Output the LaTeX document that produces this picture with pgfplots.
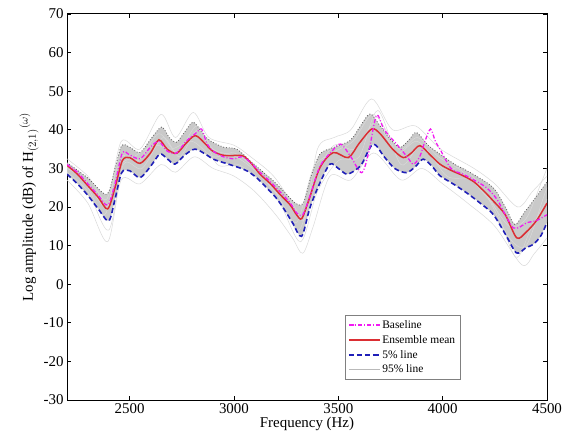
\documentclass[border=0pt]{standalone}
\usepackage{pgfplots}
\pgfplotsset{compat=1.18}
\usepgfplotslibrary{fillbetween}
\usepackage{fontspec}
\setmainfont{Liberation Serif}
\definecolor{myred}{rgb}{0.86,0.18,0.2}
\definecolor{myblue}{rgb}{0.12,0.12,0.72}
\definecolor{mymag}{rgb}{0.95,0.1,0.95}
\begin{document}
\begin{tikzpicture}
\begin{axis}[
  scale only axis, width=480bp, height=386bp,
  xmin=2200, xmax=4500, ymin=-30, ymax=70,
  xtick={2500,3000,3500,4000,4500},
  ytick={-30,-20,...,70},
  tick align=inside, tick pos=both,
  major tick length=4bp,
  axis line style={line width=1pt},
  every tick/.style={black, line width=0.6pt},
  /pgf/number format/assume math mode=true,
  /pgf/number format/1000 sep={},
  tick label style={font=\fontsize{15}{17}\selectfont},
  label style={font=\fontsize{15}{17}\selectfont},
  xlabel={Frequency (Hz)},
  ylabel={Log amplitude (dB) of H$_{(2,1)}$$^{(\omega)}$},
  xlabel style={yshift=3bp},
  ylabel style={yshift=-2bp},
  reverse legend,
  legend cell align=left,
  legend image post style={xscale=1.8},
  legend style={at={(0.579,0.22)}, anchor=north west, font=\fontsize{11.5}{13}\selectfont,
    draw=gray, row sep=1.5pt, inner sep=3pt},
  clip=true,
]
% light grey ensemble samples
\addplot[forget plot, gray!30, line width=0.5pt, smooth] coordinates {
(2200,32.5)(2300,28)(2390,22)(2460,37)(2550,35)(2650,44)(2720,38)(2805,44.5)(2880,38)(3000,36)(3080,33)(3190,28)(3290,20)(3340,17)(3400,35)(3480,38)(3560,40)(3660,48)(3760,40)(3870,41)(3990,35)(4150,30)(4250,26)(4360,20)(4430,24)(4500,28)};
\addplot[forget plot, gray!30, line width=0.5pt, smooth] coordinates {
(2200,27)(2300,21)(2395,11)(2460,27)(2550,26)(2650,31)(2720,29)(2810,33)(2900,30)(3000,28)(3100,24)(3200,18)(3280,12)(3330,8)(3380,15)(3460,28)(3560,27)(3670,34)(3800,27)(3900,30)(4000,26)(4120,21)(4250,15)(4380,5)(4440,8)(4500,12)};
\addplot[forget plot, gray!30, line width=0.5pt, smooth] coordinates {
(2200,30)(2280,27)(2380,18)(2440,30)(2520,33)(2620,36)(2700,35)(2800,37)(2900,33)(3000,34)(3100,30)(3200,24)(3310,14)(3390,28)(3480,36)(3580,35)(3680,42)(3780,34)(3880,37)(4000,30)(4100,30)(4200,24)(4320,12)(4400,10)(4480,22)(4500,25)};
\addplot[forget plot, gray!30, line width=0.5pt, smooth] coordinates {
(2200,29)(2300,24)(2400,14)(2470,31)(2560,30)(2660,38)(2740,33)(2830,40)(2920,31)(3020,31)(3120,27)(3220,21)(3320,11)(3400,24)(3500,32)(3600,33)(3690,45)(3800,31)(3900,36)(4020,28)(4140,27)(4250,20)(4350,7)(4420,14)(4500,22)};
\addplot[forget plot, gray!30, line width=0.5pt, smooth] coordinates {
(2200,31)(2300,26)(2390,20)(2450,33)(2540,32)(2640,39)(2730,34)(2820,41)(2900,35)(3010,33)(3110,29)(3210,23)(3300,16)(3380,30)(3470,34)(3570,37)(3670,44)(3790,35)(3880,38)(3980,33)(4100,29)(4220,22)(4320,15)(4400,17)(4470,26)(4500,30)};
% upper boundary of band
\addplot[forget plot, name path=up, draw=none, smooth] coordinates {
(2200,31.5)(2300,27.5)(2390,23.3)(2430,30)(2462,35.9)(2500,35.5)(2550,34.1)(2600,37.5)(2653,40.7)(2690,38)(2725,36.8)(2765,39.5)(2805,42)(2850,39)(2885,37.2)(2950,35.5)(3013,35)(3077,32)(3130,29.5)(3188,26.8)(3240,24)(3292,21.1)(3332,21)(3370,28)(3412,33.7)(3476,35.4)(3556,37.2)(3600,40.5)(3652,44.1)(3700,41)(3750,37.5)(3795,35.4)(3840,37.5)(3875,39.3)(3930,36)(3987,33.7)(4060,31)(4146,28.5)(4242,25)(4300,20)(4346,15.5)(4390,18.5)(4434,21.6)(4500,26.5)};
% lower boundary of band
\addplot[forget plot, name path=lo, draw=none, smooth] coordinates {
(2200,28.5)(2250,26)(2300,23)(2350,19.5)(2400,16.4)(2430,22)(2462,28.9)(2500,29.4)(2550,27.6)(2600,30.5)(2645,33.7)(2680,32.5)(2717,31.1)(2765,33.5)(2813,35)(2860,33.8)(2901,32.4)(2950,31.5)(2997,30.7)(3061,29.4)(3110,27.5)(3156,25)(3200,22.5)(3236,19.8)(3280,16)(3324,12.4)(3364,19.8)(3410,26)(3460,31.1)(3500,30)(3540,28.5)(3580,29.5)(3612,31.1)(3667,36.3)(3720,33)(3770,30)(3827,28.9)(3870,30.5)(3907,32.4)(3950,30.5)(3987,28.1)(4050,26)(4114,23.7)(4180,21)(4242,18.1)(4300,13)(4354,8.1)(4400,9.5)(4434,10.3)(4470,12.5)(4500,16)};
\addplot[forget plot, fill=gray!42, draw=none] fill between[of=up and lo];
% dark dotted upper line
\addplot[forget plot, black!65, dotted, line width=0.8pt, smooth] coordinates {
(2200,31.5)(2300,27.5)(2390,23.3)(2430,30)(2462,35.9)(2500,35.5)(2550,34.1)(2600,37.5)(2653,40.7)(2690,38)(2725,36.8)(2765,39.5)(2805,42)(2850,39)(2885,37.2)(2950,35.5)(3013,35)(3077,32)(3130,29.5)(3188,26.8)(3240,24)(3292,21.1)(3332,21)(3370,28)(3412,33.7)(3476,35.4)(3556,37.2)(3600,40.5)(3652,44.1)(3700,41)(3750,37.5)(3795,35.4)(3840,37.5)(3875,39.3)(3930,36)(3987,33.7)(4060,31)(4146,28.5)(4242,25)(4300,20)(4346,15.5)(4390,18.5)(4434,21.6)(4500,26.5)};
\addlegendimage{gray!55, line width=0.6pt}
\addlegendentry{95\% line}
% blue 5%
\addplot[myblue, dash pattern=on 5pt off 3pt, line width=1.6pt, smooth] coordinates {
(2200,28.5)(2250,26)(2300,23)(2350,19.5)(2400,16.4)(2430,22)(2462,28.9)(2500,29.4)(2550,27.6)(2600,30.5)(2645,33.7)(2680,32.5)(2717,31.1)(2765,33.5)(2813,35)(2860,33.8)(2901,32.4)(2950,31.5)(2997,30.7)(3061,29.4)(3110,27.5)(3156,25)(3200,22.5)(3236,19.8)(3280,16)(3324,12.4)(3364,19.8)(3410,26)(3460,31.1)(3500,30)(3540,28.5)(3580,29.5)(3612,31.1)(3667,36.3)(3720,33)(3770,30)(3827,28.9)(3870,30.5)(3907,32.4)(3950,30.5)(3987,28.1)(4050,26)(4114,23.7)(4180,21)(4242,18.1)(4300,13)(4354,8.1)(4400,9.5)(4434,10.3)(4470,12.5)(4500,16)};
\addlegendentry{5\% line}
% red mean
\addplot[myred, line width=1.5pt, smooth] coordinates {
(2200,30.8)(2250,28.5)(2300,25.5)(2350,22.5)(2395,19.5)(2430,25)(2465,32)(2500,32.8)(2550,31.3)(2600,34)(2640,37.4)(2680,35)(2725,33.9)(2770,36.5)(2815,38.5)(2860,36.5)(2895,34.6)(2940,33.5)(2980,33.3)(3040,33.3)(3080,31.5)(3125,28.5)(3175,26)(3220,23.3)(3270,20.5)(3300,18)(3325,17)(3360,22)(3412,30.2)(3476,34.1)(3548,32.8)(3600,36.5)(3660,40.2)(3700,39)(3760,35)(3811,32.8)(3850,34)(3891,35.9)(3940,33.5)(3987,31.1)(4040,29.5)(4098,28.1)(4150,26.5)(4200,24)(4242,21.6)(4300,18)(4355,12)(4400,13.5)(4450,16.5)(4500,21)};
\addlegendentry{Ensemble mean}
% magenta baseline
\addplot[mymag, dash pattern=on 4pt off 2pt on 1pt off 2pt, line width=1.3pt, smooth] coordinates {
(2200,31)(2250,29)(2300,26)(2350,23)(2395,20.5)(2430,26)(2465,34)(2500,33.5)(2550,32.5)(2600,35.5)(2640,37)(2680,34.5)(2725,34)(2770,37)(2815,39)(2845,40.2)(2870,36.5)(2900,34.5)(2950,33)(3000,32.5)(3040,33)(3080,31.5)(3125,29)(3175,26.5)(3220,24)(3270,21)(3300,18.5)(3330,18)(3365,23)(3412,30.5)(3470,34.5)(3512,36.3)(3560,33)(3612,28.9)(3645,34)(3683,43.7)(3720,40)(3779,36.3)(3830,33)(3859,31.1)(3890,33)(3915,37)(3942,40.2)(3965,37)(3987,35)(4040,30)(4098,28.5)(4150,27)(4210,25)(4260,22)(4300,18)(4338,14.6)(4370,14.8)(4402,15.9)(4450,16.5)(4500,18)};
\addlegendentry{Baseline}
\end{axis}
\path (-67bp,-42bp) rectangle (501bp,400bp);
\end{tikzpicture}
\end{document}
